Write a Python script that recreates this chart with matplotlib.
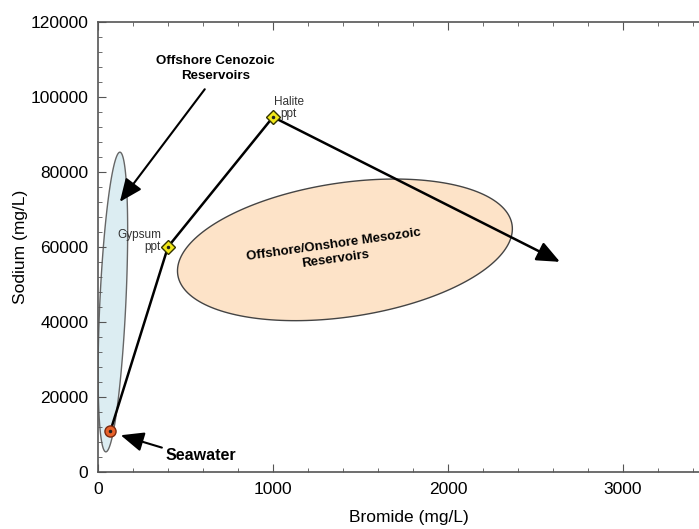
import numpy as np
import matplotlib.pyplot as plt
from matplotlib.ticker import MultipleLocator

plt.rcParams['font.family'] = ['Liberation Sans', 'DejaVu Sans']

# ------------------------------
# Data
# ------------------------------
path_names = ["Seawater", "Gypsum ppt", "Halite ppt"]
path_bromide = [70, 400, 1000]          # mg/L
path_sodium = [10800, 60000, 94600]     # mg/L
trend_end = (2640, 56000)               # direction beyond halite

# reservoir fields: centre (Br, Na), half-axes in axis pixels, tilt in degrees
ceno_center = (85, 45300)
ceno_axes_px = (13, 150)
ceno_tilt = -2.7
meso_center = (1411, 59200)
meso_axes_px = (169, 67)
meso_tilt = 8.5

# ------------------------------
# Figure
# ------------------------------
W, H = 699, 529
ax_w_px, ax_h_px = 601, 450.3
fig = plt.figure(figsize=(W / 100, H / 100), dpi=100)
ax = fig.add_axes([98 / W, 57 / H, ax_w_px / W, ax_h_px / H])
px_x = 0.175                 # pixels per mg/L bromide
px_y = ax_h_px / 120000      # pixels per mg/L sodium
ax.set_xlim(0, ax_w_px / px_x)
ax.set_ylim(0, 120000)


def ellipse(center, axes_px, tilt):
    t = np.linspace(0, 2 * np.pi, 200)
    a, b = axes_px
    th = np.radians(tilt)
    dx = a * np.cos(t) * np.cos(th) - b * np.sin(t) * np.sin(th)
    dy = a * np.cos(t) * np.sin(th) + b * np.sin(t) * np.cos(th)
    return center[0] + dx / px_x, center[1] + dy / px_y


ex, ey = ellipse(meso_center, meso_axes_px, meso_tilt)
ax.fill(ex, ey, facecolor="#fde3c8", edgecolor="#444444", lw=1.0, zorder=1)
ex, ey = ellipse(ceno_center, ceno_axes_px, ceno_tilt)
ax.fill(ex, ey, facecolor="#dcedf2", edgecolor="#666666", lw=1.0, zorder=1)

head = "-|>,head_length=1.4,head_width=0.6"

# evaporation path
ax.plot(path_bromide, path_sodium, color="black", lw=1.8, zorder=3)
ax.annotate("", xy=trend_end, xytext=(path_bromide[2], path_sodium[2]),
            arrowprops=dict(arrowstyle=head, color="black", lw=1.8,
                            shrinkA=0, shrinkB=0), zorder=3)

ax.plot(path_bromide[0], path_sodium[0], "o", ms=8, mfc="#e8622a",
        mec="#7a2a10", mew=1, zorder=4)
ax.plot(path_bromide[1:], path_sodium[1:], "D", ms=7, mfc="#f2e81a",
        mec="#333300", mew=1, zorder=4)
ax.plot(path_bromide, path_sodium, ".", ms=3, color="#222222", zorder=5)

# labels
ax.text(360, 61500, "Gypsum\nppt", ha="right", va="center", fontsize=8.5,
        color="#333333", linespacing=1.0)
ax.text(1090, 97000, "Halite\nppt", ha="center", va="center", fontsize=8.5,
        color="#333333", linespacing=1.0)
ax.text(670, 107500, "Offshore Cenozoic\nReservoirs", ha="center", va="center",
        fontsize=9.6, fontweight="bold", linespacing=1.4)
ax.annotate("", xy=(125, 72000), xytext=(610, 102000),
            arrowprops=dict(arrowstyle=head, color="black", lw=1.5,
                            shrinkA=0, shrinkB=0))
ax.text(385, 4500, "Seawater", ha="left", va="center", fontsize=11.5,
        fontweight="bold")
ax.annotate("", xy=(130, 9800), xytext=(365, 6500),
            arrowprops=dict(arrowstyle=head, color="black", lw=1.5,
                            shrinkA=0, shrinkB=0))
ax.text(1350, 58700, "Offshore/Onshore Mesozoic\nReservoirs", ha="center",
        va="center", fontsize=9.5, fontweight="bold", rotation=8, linespacing=1.3)

# axes styling
for side in ["left", "bottom", "top"]:
    ax.spines[side].set_color("#555555")
    ax.spines[side].set_linewidth(1.2)
ax.spines["right"].set_visible(False)
ax.xaxis.set_major_locator(MultipleLocator(1000))
ax.xaxis.set_minor_locator(MultipleLocator(200))
ax.yaxis.set_major_locator(MultipleLocator(20000))
ax.yaxis.set_minor_locator(MultipleLocator(4000))
ax.tick_params(which="both", direction="in", top=True, right=False,
               color="#555555", labelsize=12.5, pad=7)
ax.tick_params(which="major", length=6)
ax.tick_params(which="minor", length=3)
ax.set_xlabel("Bromide (mg/L)", fontsize=12.5, labelpad=14)
ax.xaxis.set_label_coords(0.517, -0.085)
ax.set_ylabel("Sodium (mg/L)", fontsize=12.5, labelpad=2)

fig.savefig("out.png", dpi=100)
